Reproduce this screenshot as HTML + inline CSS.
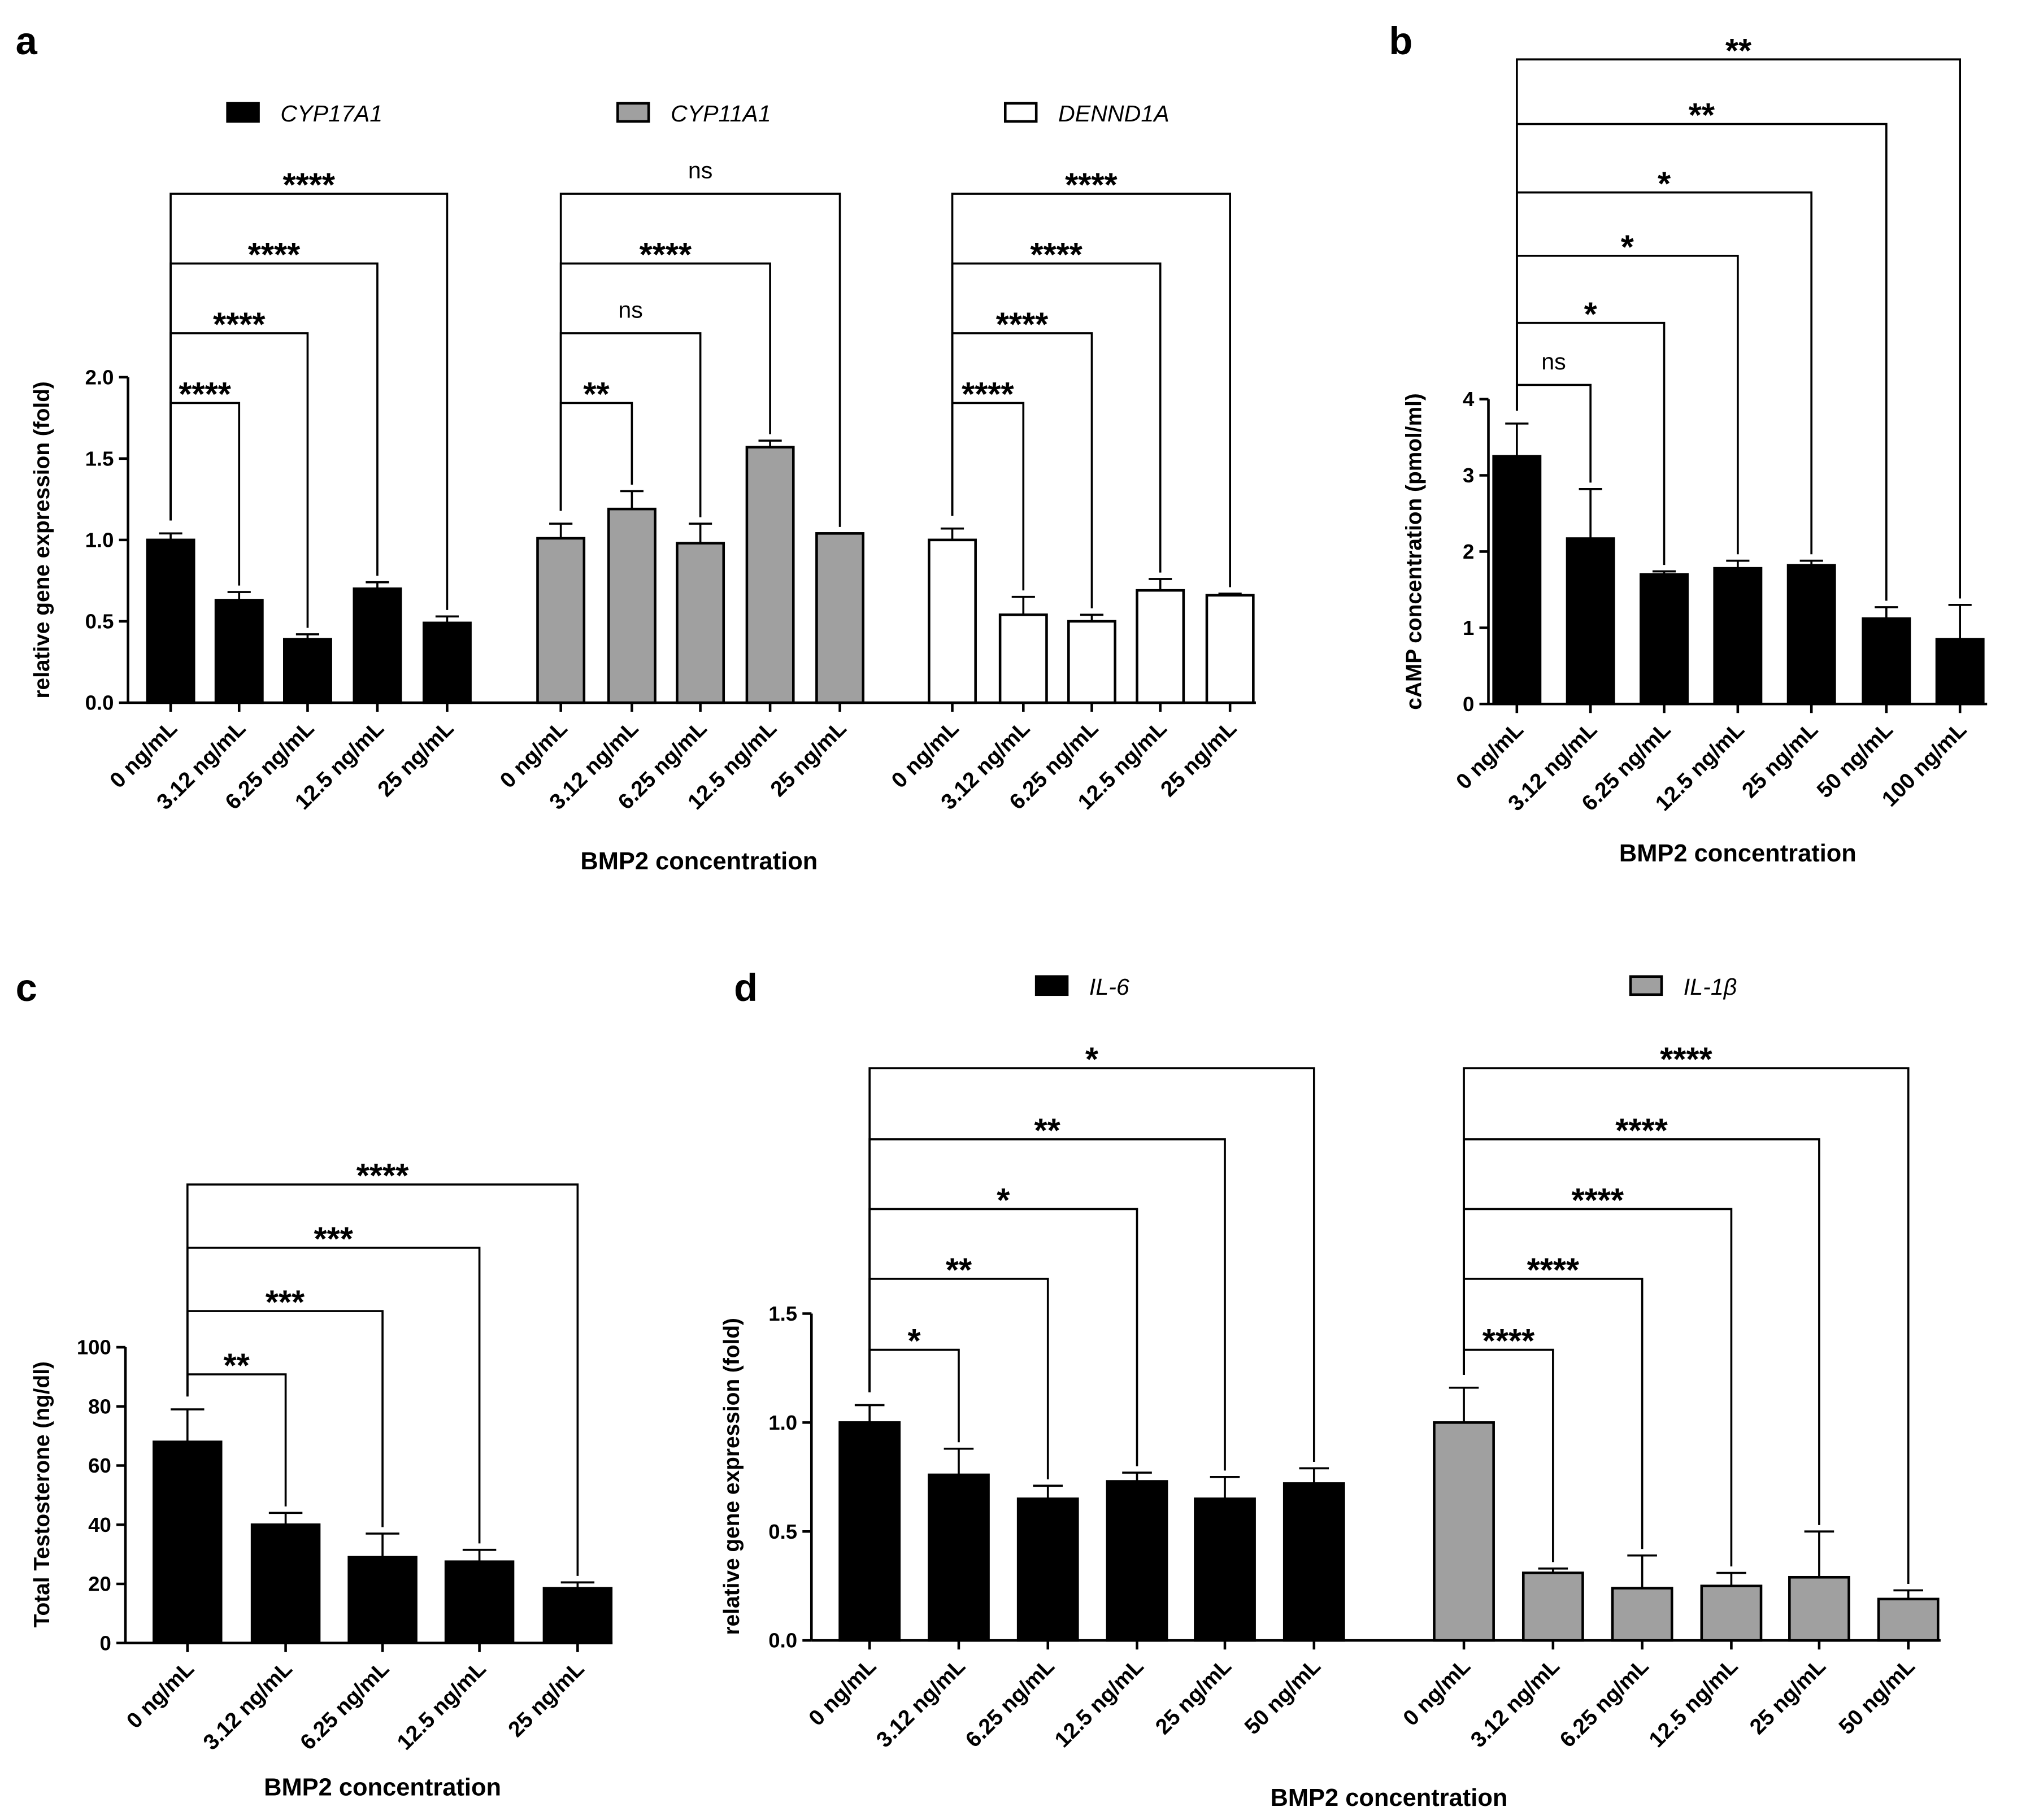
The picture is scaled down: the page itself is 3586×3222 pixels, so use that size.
<!DOCTYPE html>
<html><head><meta charset="utf-8"><style>
html,body{margin:0;padding:0;background:#fff}
svg{display:block}
text{font-family:"Liberation Sans",Arial,sans-serif}
</style></head><body>
<svg id="fig" width="3586" height="3222" viewBox="0 0 1568 1409" xmlns="http://www.w3.org/2000/svg">
<rect width="1568" height="1409" fill="#fff"/>
<g id="root"></g>
</svg>
<script>
// ---- Panel a data ----
const aCats = ["0 ng/mL","3.12 ng/mL","6.25 ng/mL","12.5 ng/mL","25 ng/mL"];
const aCyp17 = [1.0,0.63,0.39,0.70,0.49];
const aCyp17Err = [0.04,0.05,0.03,0.04,0.04];
const aCyp11 = [1.01,1.19,0.98,1.57,1.04];
const aCyp11Err = [0.09,0.11,0.12,0.04,0.0];
const aDennd = [1.0,0.54,0.50,0.69,0.66];
const aDenndErr = [0.07,0.11,0.04,0.07,0.01];
const aTicks = [0,0.5,1.0,1.5,2.0];
const aSig1 = ["****","****","****","****"];
const aSig2 = ["**","ns","****","ns"];
const aSig3 = ["****","****","****","****"];
// ---- Panel b data ----
const bCats = ["0 ng/mL","3.12 ng/mL","6.25 ng/mL","12.5 ng/mL","25 ng/mL","50 ng/mL","100 ng/mL"];
const bVals = [3.25,2.17,1.70,1.78,1.82,1.12,0.85];
const bErr = [0.43,0.65,0.04,0.10,0.06,0.15,0.45];
const bTicks = [0,1,2,3,4];
const bSig = ["ns","*","*","*","**","**"];
// ---- Panel c data ----
const cCats = ["0 ng/mL","3.12 ng/mL","6.25 ng/mL","12.5 ng/mL","25 ng/mL"];
const cVals = [68,40,29,27.5,18.5];
const cErr = [11,4,8,4,2];
const cTicks = [0,20,40,60,80,100];
const cSig = ["**","***","***","****"];
// ---- Panel d data ----
const dCats = ["0 ng/mL","3.12 ng/mL","6.25 ng/mL","12.5 ng/mL","25 ng/mL","50 ng/mL"];
const dIl6 = [1.0,0.76,0.65,0.73,0.65,0.72];
const dIl6Err = [0.08,0.12,0.06,0.04,0.10,0.07];
const dIl1b = [1.0,0.31,0.24,0.25,0.29,0.19];
const dIl1bErr = [0.16,0.02,0.15,0.06,0.21,0.04];
const dTicks = [0,0.5,1.0,1.5];
const dSig1 = ["*","**","*","**","*"];
const dSig2 = ["****","****","****","****","****"];

const NS="http://www.w3.org/2000/svg";
const root=document.getElementById('root');
function el(tag,attrs,parent,txt){const e=document.createElementNS(NS,tag);for(const k in attrs)e.setAttribute(k,attrs[k]);if(txt!==undefined)e.textContent=txt;(parent||root).appendChild(e);return e;}

function axisY(g,x,y0,scale,ticks,fmt){
  const top=y0-ticks[ticks.length-1]*scale;
  const ax=el('line',{x1:x,y1:y0,x2:x,y2:top,stroke:'#000','stroke-width':2},g);
  
  
  ticks.forEach(t=>{const y=y0-t*scale;
    el('line',{x1:x-7,y1:y,x2:x,y2:y,stroke:'#000','stroke-width':2},g);
    const tx=el('text',{x:x-11,y:y+5.5,'text-anchor':'end','font-size':16,'font-weight':'bold'},g,fmt(t));
    
    
  });
}
function bars(g,centers,vals,errs,y0,scale,w,fill,name){
  centers.forEach((cx,i)=>{
    const h=vals[i]*scale, et=y0-(vals[i]+errs[i])*scale;
    el('line',{x1:cx,y1:y0-h,x2:cx,y2:et,stroke:'#000','stroke-width':1.6},g);
    el('line',{x1:cx-w*0.25,y1:et,x2:cx+w*0.25,y2:et,stroke:'#000','stroke-width':1.6},g);
    const r=el('rect',{x:cx-w/2,y:y0-h,width:w,height:h,fill:fill,stroke:'#000','stroke-width':2},g);
    
    
  });
}
function xLabels(g,centers,cats,y0){
  centers.forEach((cx,i)=>{
    el('line',{x1:cx,y1:y0,x2:cx,y2:y0+7,stroke:'#000','stroke-width':2},g);
    const t=el('text',{x:cx+6,y:y0+21,'text-anchor':'end','font-size':17,'font-weight':'bold',transform:`rotate(-45 ${cx+6} ${y0+21})`},g,cats[i]);
    
    
  });
}
function brackets(g,centers,vals,errs,y0,scale,levels,sigs){
  const cx0=centers[0];
  const ctrlTop=y0-(vals[0]+errs[0])*scale-10;
  sigs.forEach((s,i)=>{
    const ly=levels[i], cx=centers[i+1];
    const rt=y0-(vals[i+1]+errs[i+1])*scale-5;
    el('polyline',{points:`${cx0},${ctrlTop} ${cx0},${ly} ${cx},${ly} ${cx},${rt}`,fill:'none',stroke:'#000','stroke-width':1.6},g);
    const mid=(cx0+cx)/2;
    const t= s==='ns'
      ? el('text',{x:mid,y:ly-12,'text-anchor':'middle','font-size':18},g,s)
      : el('text',{x:mid,y:ly+2,'text-anchor':'middle','font-size':26,'font-weight':'bold'},g,s);
    
    
  });
}
function title(g,x,y,txt,rot,size){
  const t=el('text',{x:x,y:y,'text-anchor':'middle','font-size':size||19,'font-weight':'bold',transform:rot?`rotate(-90 ${x} ${y})`:''},g,txt);
  return t;
}
function legend(g,x,y,fill,txt){
  const r=el('rect',{x:x,y:y,width:24,height:14,fill:fill,stroke:'#000','stroke-width':2},g);
  
  
  const t=el('text',{x:x+41,y:y+14,'font-size':18,'font-style':'italic'},g,txt);
  
  
}
function letter(x,y,s){const t=el('text',{x:x,y:y,'font-size':30,'font-weight':'bold'},root,s);
  
  }

// Panel a
{const g=el('g',{});  
 const y0=544, sc=126, w=36;
 const c1=[132,185,238,292,346], c2=[434,489,542,596,650], c3=[737,792,845,898,952];
 el('line',{x1:99,y1:y0,x2:972,y2:y0,stroke:'#000','stroke-width':2},g);
 axisY(g,99,y0,sc,aTicks,t=>t.toFixed(1));
 bars(g,c1,aCyp17,aCyp17Err,y0,sc,w,'#000','cyp17a1');
 bars(g,c2,aCyp11,aCyp11Err,y0,sc,w,'#a0a0a0','cyp11a1');
 bars(g,c3,aDennd,aDenndErr,y0,sc,w,'#fff','dennd1a');
 xLabels(g,c1,aCats,y0); xLabels(g,c2,aCats,y0); xLabels(g,c3,aCats,y0);
 const lv=[312,258,204,150];
 brackets(g,c1,aCyp17,aCyp17Err,y0,sc,lv,aSig1);
 brackets(g,c2,aCyp11,aCyp11Err,y0,sc,lv,aSig2);
 brackets(g,c3,aDennd,aDenndErr,y0,sc,lv,aSig3);
 const yt=title(g,38,418,'relative gene expression (fold)',true,17);  
 const xt=title(g,541,673,'BMP2 concentration');  
 legend(g,176,80,'#000','CYP17A1'); legend(g,478,80,'#a0a0a0','CYP11A1'); legend(g,778,80,'#fff','DENND1A');
}
// Panel b
{const g=el('g',{});  
 const y0=545, sc=59, w=36;
 const c=[1174,1231,1288,1345,1402,1460,1517];
 el('line',{x1:1152,y1:y0,x2:1538,y2:y0,stroke:'#000','stroke-width':2},g);
 axisY(g,1152,y0,sc,bTicks,t=>String(t));
 bars(g,c,bVals,bErr,y0,sc,w,'#000','camp');
 xLabels(g,c,bCats,y0);
 brackets(g,c,bVals,bErr,y0,sc,[298,250,198,149,96,46],bSig);
 const yt=title(g,1100,427,'cAMP concentration (pmol/ml)',true,17);  
 const xt=title(g,1345,667,'BMP2 concentration');  
}
// Panel c
{const g=el('g',{});  
 const y0=1272, sc=2.29, w=52;
 const c=[145,221,296,371,447];
 el('line',{x1:97,y1:y0,x2:474,y2:y0,stroke:'#000','stroke-width':2},g);
 axisY(g,97,y0,sc,cTicks,t=>String(t));
 bars(g,c,cVals,cErr,y0,sc,w,'#000','testosterone');
 xLabels(g,c,cCats,y0);
 brackets(g,c,cVals,cErr,y0,sc,[1064,1015,966,917],cSig);
 const yt=title(g,38,1157,'Total Testosterone (ng/dl)',true,17);  
 const xt=title(g,296,1390,'BMP2 concentration');  
}
// Panel d
{const g=el('g',{});  
 const y0=1270, sc=168.7, w=46;
 const c1=[673,742,811,880,948,1017], c2=[1133,1202,1271,1340,1408,1477];
 el('line',{x1:628,y1:y0,x2:1502,y2:y0,stroke:'#000','stroke-width':2},g);
 axisY(g,628,y0,sc,dTicks,t=>t.toFixed(1));
 bars(g,c1,dIl6,dIl6Err,y0,sc,w,'#000','il6');
 bars(g,c2,dIl1b,dIl1bErr,y0,sc,w,'#a0a0a0','il1b');
 xLabels(g,c1,dCats,y0); xLabels(g,c2,dCats,y0);
 const lv=[1045,990,936,882,827];
 brackets(g,c1,dIl6,dIl6Err,y0,sc,lv,dSig1);
 brackets(g,c2,dIl1b,dIl1bErr,y0,sc,lv,dSig2);
 const yt=title(g,572,1143,'relative gene expression (fold)',true,17);  
 const xt=title(g,1075,1398,'BMP2 concentration',false,19);  
 legend(g,802,756,'#000','IL-6'); legend(g,1262,756,'#a0a0a0','IL-1β');
}
letter(12,42,'a'); letter(1075,42,'b'); letter(12,775,'c'); letter(568,775,'d');
</script>
</body></html>
